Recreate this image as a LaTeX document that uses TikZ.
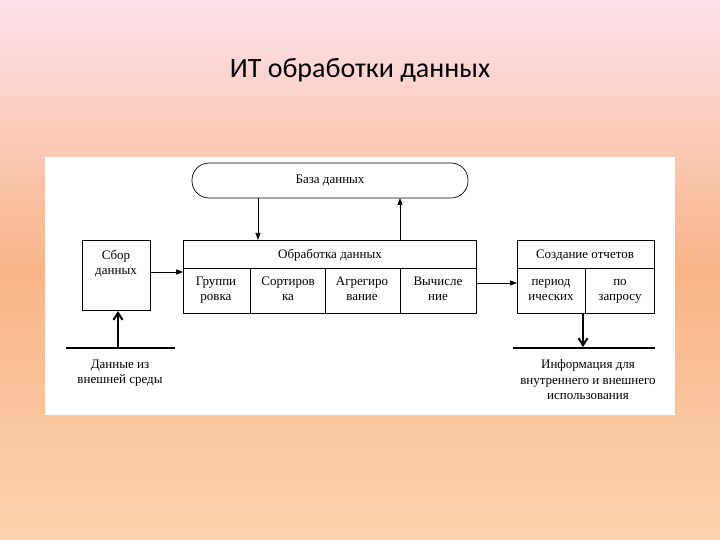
\documentclass[tikz,border=0pt]{standalone}
\usepackage{fontspec}
\setmainfont{Liberation Serif}
\newfontfamily\titlefont{Carlito}
\usetikzlibrary{arrows.meta}
\definecolor{bgtop}{RGB}{252,226,236}
\definecolor{bgmid}{RGB}{249,180,135}
\definecolor{bgbot}{RGB}{252,212,175}
\tikzset{
  box/.style={draw, line width=0.7pt},
  lbl/.style={font=\fontsize{13}{15.5}\selectfont, align=center, inner sep=0pt},
  arr/.style={-{Triangle[length=7pt,width=5pt]}, line width=0.7pt},
  thickarr/.style={-{Straight Barb[length=7pt,width=9pt,line width=2pt]}, line width=2.5pt},
  thickline/.style={line width=2.5pt},
}
\begin{document}
\begin{tikzpicture}[x=1pt,y=-1pt]
\useasboundingbox (0,0) rectangle (720,540);
\shade[top color=bgtop, bottom color=bgbot, middle color=bgmid] (0,0) rectangle (720,540);
\node[font=\titlefont\fontsize{28}{32}\selectfont] (title) at (360,70) {ИТ обработки данных};
\fill[white] (45,157) rectangle (675,415);
% pill
\draw[box, rounded corners=17pt] (192,163) rectangle (468,198);
\node[lbl] (db) at (330,181) {База данных};
\coordinate (dbA) at (258,198);
\coordinate (dbB) at (400,198);
% Сбор
\draw[box] (82,240) rectangle (150,310);
\node[lbl] (sbor) at (116,264) {\strut Сбор\\\strut данных};
% Обработка
\draw[box] (183,240) rectangle (476,313);
\draw[box] (183,268) -- (476,268);
\draw[box] (250,268) -- (250,313);
\draw[box] (325,268) -- (325,313);
\draw[box] (400,268) -- (400,313);
\node[lbl] (obr) at (330,255) {Обработка данных};
\node[lbl] (c1) at (216,290) {\strut Группи\\\strut ровка};
\node[lbl] (c2) at (288,290) {\strut Сортиров\\\strut ка};
\node[lbl] (c3) at (362,290) {\strut Агрегиро\\\strut вание};
\node[lbl] (c4) at (438,290) {\strut Вычисле\\\strut ние};
% Создание
\draw[box] (517,240) rectangle (654,313);
\draw[box] (517,268) -- (654,268);
\draw[box] (585,268) -- (585,313);
\node[lbl] (soz) at (585,255) {Создание отчетов};
\node[lbl] (r1) at (551,290) {\strut период\\\strut ических};
\node[lbl] (r2) at (620,290) {\strut по\\\strut запросу};
% arrows
\coordinate (obrA) at (258,240);
\coordinate (obrB) at (400,240);
\draw[arr] (dbA) -- (obrA);
\draw[arr] (obrB) -- (dbB);
\coordinate (s1) at (150,272);
\coordinate (s2) at (183,272);
\draw[arr] (s1) -- (s2);
\coordinate (o1) at (476,283);
\coordinate (o2) at (517,283);
\draw[arr] (o1) -- (o2);
% input
\coordinate (inL) at (66,348);
\coordinate (inR) at (175,348);
\coordinate (inM) at (118,348);
\coordinate (inT) at (118,311);
\draw[thickline] (inL) -- (inR);
\draw[thickarr] (inM) -- (inT);
\node[lbl] (ext) at (120,373) {\strut Данные из\\\strut внешней среды};
% output
\coordinate (outL) at (513,348);
\coordinate (outR) at (655,348);
\coordinate (outT) at (583,313);
\coordinate (outM) at (583,347);
\draw[thickline] (outL) -- (outR);
\draw[thickarr] (outT) -- (outM);
\node[lbl] (info) at (588,381) {\strut Информация для\\\strut внутреннего и внешнего\\\strut использования};
\end{tikzpicture}
\end{document}
